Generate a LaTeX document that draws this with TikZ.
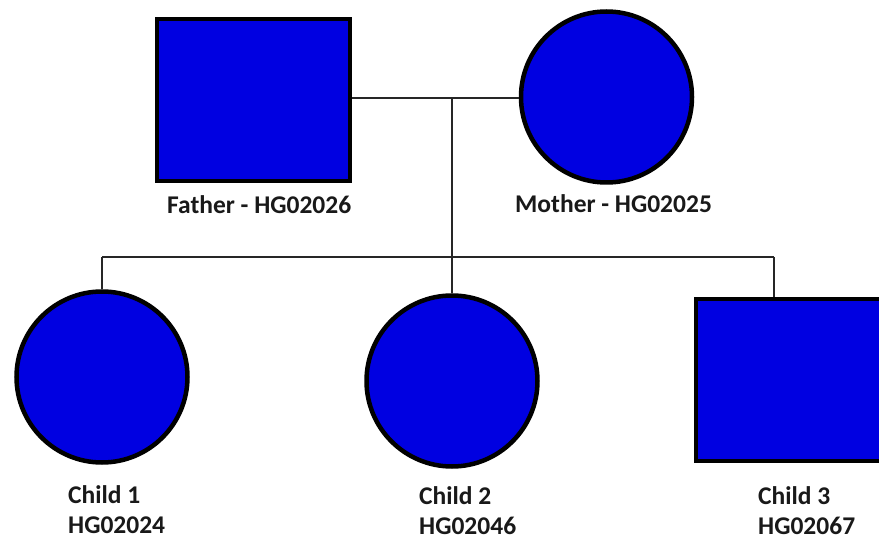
\documentclass[tikz,border=0pt]{standalone}
\usepackage{fontspec}
\setmainfont{Carlito}
\definecolor{pblue}{RGB}{0,0,225}
\begin{document}
\begin{tikzpicture}[x=1pt,y=-1pt,
  person/.style={draw=black,fill=pblue,line width=4.5pt,inner sep=0pt},
  male/.style={person,rectangle,minimum width=193pt,minimum height=162pt},
  female/.style={person,circle,minimum size=171pt},
  link/.style={draw=black!85,line width=1.3pt},
  lbl/.style={anchor=base west,inner sep=0pt,align=left,
    font=\bfseries\fontsize{25.5}{30}\selectfont,text=black!90}]
\clip (0,0) rectangle (879,540);
\fill[white] (0,0) rectangle (879,540);
% parents
\node[male] (father) at (253.5,100) {};
\node[female] (mother) at (606.5,97) {};
% children
\node[female] (c1) at (102,377) {};
\node[female] (c2) at (452,381) {};
\node[male,minimum width=196pt,minimum height=162pt] (c3) at (794,380) {};
% labels
\node[lbl] (lf) at (167,214) {Father - HG02026};
\node[lbl] (lm) at (515,213) {Mother - HG02025};
\node[lbl] (l1) at (68,533) {Child 1\\HG02024};
\node[lbl] (l2) at (419,534) {Child 2\\HG02046};
\node[lbl] (l3) at (758,534) {Child 3\\HG02067};
% connectors
\coordinate (m) at (452,98);
\coordinate (sib) at (452,257);
\coordinate (s1) at (102,257);
\coordinate (s3) at (774,257);
\draw[link] (father.east |- m) -- (mother.west |- m);
\draw[link] (m) -- (sib) -- (c2.north);
\draw[link] (s1) -- (s3);
\draw[link] (s1) -- (c1.north);
\draw[link] (s3) -- (c3.north -| s3);
\end{tikzpicture}
\end{document}
